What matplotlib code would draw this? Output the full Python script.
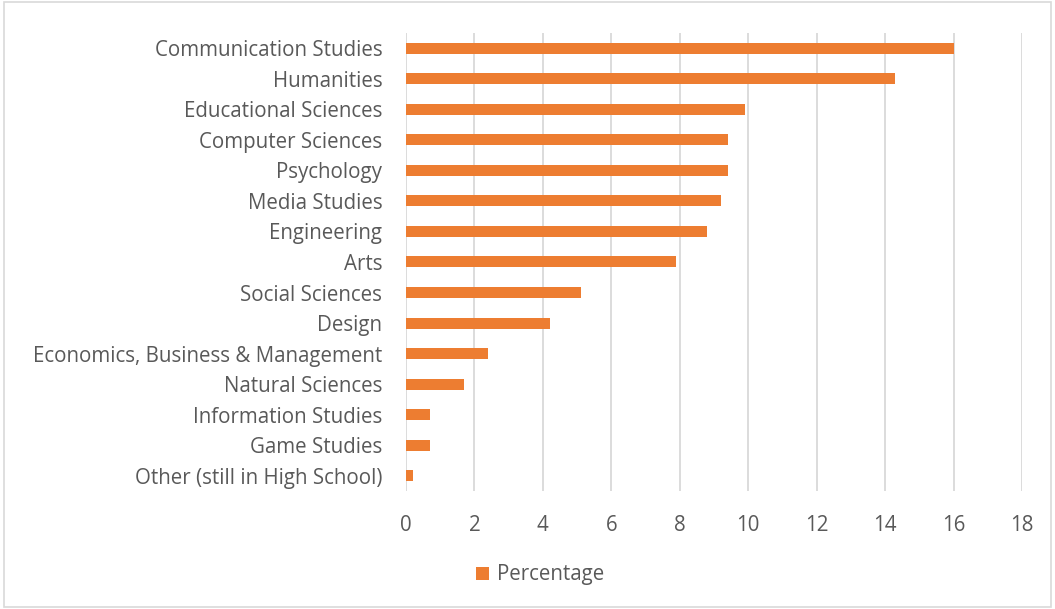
import numpy as np
import matplotlib.pyplot as plt
from matplotlib.patches import Rectangle

fields = ["Communication Studies", "Humanities", "Educational Sciences",
          "Computer Sciences", "Psychology", "Media Studies", "Engineering",
          "Arts", "Social Sciences", "Design", "Economics, Business & Management",
          "Natural Sciences", "Information Studies", "Game Studies",
          "Other (still in High School)"]
percentage = [16.0, 14.3, 9.9, 9.4, 9.4, 9.2, 8.8, 7.9, 5.1, 4.2, 2.4, 1.7, 0.7, 0.7, 0.2]
xticks = [0, 2, 4, 6, 8, 10, 12, 14, 16, 18]

orange = "#ED7D31"
txt = "#595959"
grid = "#D9D9D9"

plt.rcParams['font.family'] = ['Open Sans', 'DejaVu Sans']

fig = plt.figure(figsize=(10.55, 6.09), dpi=100)
ax = fig.add_axes([0.3848, 0.1938, 0.5839, 0.752])

y = np.arange(len(fields))
ax.barh(y, percentage, height=0.36, color=orange, label="Percentage", zorder=3)
ax.set_ylim(len(fields) - 0.5, -0.5)
ax.set_xlim(0, 18)
ax.set_xticks(xticks)
ax.set_yticks(y)
ax.set_yticklabels(fields)
ax.tick_params(axis='both', length=0, labelsize=14.8, labelcolor=txt)
ax.tick_params(axis='x', pad=17)
ax.tick_params(axis='y', pad=17)
ax.xaxis.grid(True, color=grid, linewidth=1.3, zorder=0)
for s in ax.spines.values():
    s.set_visible(False)

fig.legend(loc='center', bbox_to_anchor=(0.512, 0.056), frameon=False,
           fontsize=14.8, labelcolor=txt, handlelength=0.6, handleheight=0.6,
           handletextpad=0.4)

fig.patches.append(Rectangle((0.004, 0.004), 0.992, 0.992, transform=fig.transFigure,
                             fill=False, edgecolor=grid, linewidth=1.2))

fig.savefig("out.png", dpi=100)
